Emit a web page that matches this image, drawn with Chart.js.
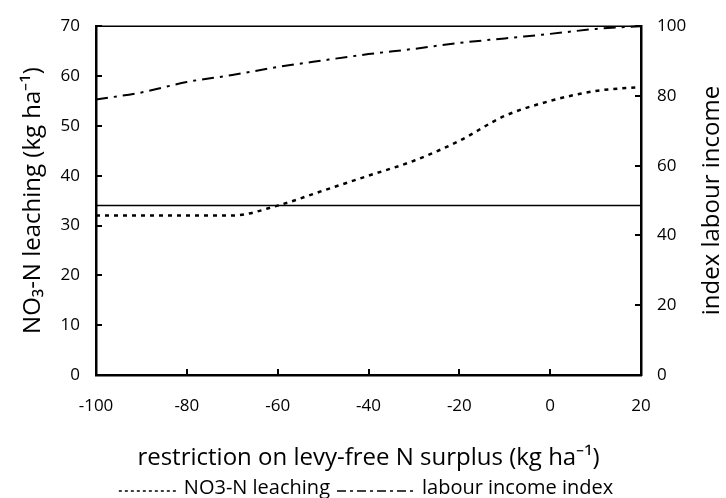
<!DOCTYPE html>
<html>
<head>
<meta charset="utf-8">
<script src="https://cdn.jsdelivr.net/npm/chart.js@4.4.1/dist/chart.umd.min.js"></script>
<style>
    html, body { margin: 0; padding: 0; background: #fff; }
    #wrap { width: 726px; height: 498px; }
</style>
</head>
<body>
<div id="wrap"><canvas id="grafico" width="726" height="498"></canvas></div>
<script>
// restriction on levy-free N surplus (kg/ha)
const surplusSteps = [-100, -90, -80, -70, -60, -50, -40, -30, -20, -10, 0, 10, 20];
// NO3-N leaching (kg/ha), left axis
const leaching = [32, 32, 32, 32, 34, 37, 40, 43, 47, 52, 55, 57, 57.8];
// labour income index, right axis
const labourIndex = [79, 81, 84, 86, 88.3, 90.2, 92, 93.5, 95.2, 96.5, 97.8, 99.2, 100];
// leaching norm drawn as a flat reference line
const leachingNorm = 34;

const FONT = "'Open Sans', sans-serif";
const rightTitle = "index labour income";

function pairs(ys) {
    return surplusSteps.map(function(x, i) { return { x: x, y: ys[i] }; });
}

// short tick marks pointing into the plot, the top frame line and the right-hand title
const frameTicks = {
    id: "frameTicks",
    afterDraw: function(chart) {
        const ctx = chart.ctx;
        const area = chart.chartArea;
        const len = 6;
        ctx.save();
        ctx.strokeStyle = "#000";
        ctx.lineWidth = 2;

        chart.scales.x.ticks.forEach(function(t) {
            const px = Math.round(chart.scales.x.getPixelForValue(t.value));
            ctx.beginPath();
            ctx.moveTo(px, area.bottom);
            ctx.lineTo(px, area.bottom - len);
            ctx.stroke();
        });
        chart.scales.y.ticks.forEach(function(t) {
            const py = Math.round(chart.scales.y.getPixelForValue(t.value));
            ctx.beginPath();
            ctx.moveTo(area.left, py);
            ctx.lineTo(area.left + len, py);
            ctx.stroke();
        });
        chart.scales.y2.ticks.forEach(function(t) {
            const py = Math.round(chart.scales.y2.getPixelForValue(t.value));
            ctx.beginPath();
            ctx.moveTo(area.right, py);
            ctx.lineTo(area.right - len, py);
            ctx.stroke();
        });

        ctx.lineWidth = 1.5;
        ctx.beginPath();
        ctx.moveTo(area.left, area.top);
        ctx.lineTo(area.right, area.top);
        ctx.stroke();

        // right axis title reads bottom to top, like the left one
        ctx.translate(712, (area.top + area.bottom) / 2);
        ctx.rotate(-Math.PI / 2);
        ctx.font = "24px " + FONT;
        ctx.fillStyle = "#000";
        ctx.textAlign = "center";
        ctx.textBaseline = "middle";
        ctx.fillText(rightTitle, 0, 0);
        ctx.restore();
    }
};

// legend row under the axis title, samples use each dataset's key dash pattern
const bottomKey = {
    id: "bottomKey",
    afterDraw: function(chart) {
        const ctx = chart.ctx;
        const items = chart.data.datasets.filter(function(d) { return !d.hideInKey; });
        const gapAfterSample = 5;
        const gapBetween = 7;
        const y = 488;
        ctx.save();
        ctx.font = "20px " + FONT;
        ctx.textBaseline = "middle";
        let total = 0;
        items.forEach(function(d, i) {
            total += d.keyLength + gapAfterSample + ctx.measureText(d.label).width;
            if (i > 0) total += gapBetween;
        });
        let x = 366 - total / 2;
        items.forEach(function(d) {
            ctx.strokeStyle = "#000";
            ctx.lineWidth = 1.5;
            ctx.setLineDash(d.keyDash);
            ctx.beginPath();
            ctx.moveTo(x, y + 3);
            ctx.lineTo(x + d.keyLength, y + 3);
            ctx.stroke();
            ctx.setLineDash([]);
            x += d.keyLength + gapAfterSample;
            ctx.fillStyle = "#000";
            ctx.fillText(d.label, x, y);
            x += ctx.measureText(d.label).width + gapBetween;
        });
        ctx.restore();
    }
};

const ctx = document.getElementById("grafico").getContext("2d");
new Chart(ctx, {
    type: "line",
    data: {
        datasets: [
            {
                label: "NO3-N leaching",
                data: pairs(leaching),
                yAxisID: "y",
                borderColor: "#000",
                borderWidth: 2.5,
                borderDash: [4, 5],
                keyDash: [3, 3],
                keyLength: 60,
                pointRadius: 0,
                cubicInterpolationMode: "monotone",
                fill: false
            },
            {
                label: "labour income index",
                data: pairs(labourIndex),
                yAxisID: "y2",
                borderColor: "#000",
                borderWidth: 2,
                borderDash: [12, 6, 3, 6],
                keyDash: [9, 4, 3, 4],
                keyLength: 80,
                pointRadius: 0,
                cubicInterpolationMode: "monotone",
                clip: false,
                fill: false
            },
            {
                label: "norm",
                data: pairs(surplusSteps.map(function() { return leachingNorm; })),
                yAxisID: "y",
                borderColor: "#000",
                borderWidth: 1.5,
                pointRadius: 0,
                hideInKey: true,
                fill: false
            }
        ]
    },
    options: {
        responsive: false,
        animation: false,
        layout: { padding: { top: 24, left: 0, right: 0, bottom: 0 } },
        plugins: {
            legend: { display: false },
            tooltip: { enabled: false }
        },
        scales: {
            x: {
                type: "linear",
                position: "bottom",
                min: -100,
                max: 20,
                ticks: {
                    stepSize: 20,
                    padding: 21,
                    color: "#000",
                    font: { family: FONT, size: 17 }
                },
                grid: { drawOnChartArea: false, drawTicks: false },
                border: { display: true, color: "#000", width: 2.5 },
                title: {
                    display: true,
                    text: "restriction on levy-free N surplus (kg ha\u207B\u00B9)",
                    color: "#000",
                    font: { family: FONT, size: 24 },
                    padding: { top: 0, bottom: 25 }
                },
                afterFit: function(scale) { scale.height = 123; }
            },
            y: {
                type: "linear",
                position: "left",
                min: 0,
                max: 70,
                ticks: {
                    stepSize: 10,
                    padding: 16,
                    color: "#000",
                    font: { family: FONT, size: 17 }
                },
                grid: { drawOnChartArea: false, drawTicks: false },
                border: { display: true, color: "#000", width: 2.5 },
                title: {
                    display: true,
                    text: "NO\u2083-N leaching (kg ha\u207B\u00B9)",
                    color: "#000",
                    font: { family: FONT, size: 24 },
                    padding: { top: 19, bottom: 0 }
                },
                afterFit: function(scale) { scale.width = 96; }
            },
            y2: {
                type: "linear",
                position: "right",
                min: 0,
                max: 100,
                ticks: {
                    stepSize: 20,
                    padding: 16,
                    color: "#000",
                    font: { family: FONT, size: 17 }
                },
                grid: { drawOnChartArea: false, drawTicks: false },
                border: { display: true, color: "#000", width: 2.5 },
                afterFit: function(scale) { scale.width = 85; }
            }
        }
    },
    plugins: [frameTicks, bottomKey]
});
</script>
</body>
</html>
